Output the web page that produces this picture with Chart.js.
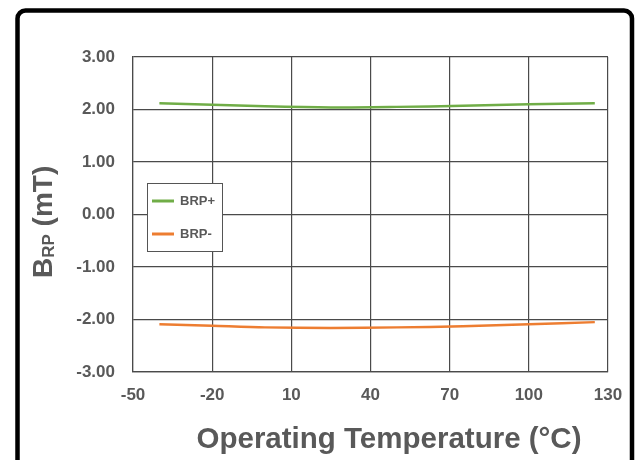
<!DOCTYPE html>
<html>
<head>
<meta charset="utf-8">
<script src="https://cdn.jsdelivr.net/npm/chart.js@4.4.1/dist/chart.umd.min.js"></script>
<style>
  html, body { margin: 0; padding: 0; background: #fff; }
  #wrap { width: 638px; height: 460px; position: relative; }
</style>
</head>
<body>
<div id="wrap"><canvas id="brpChart"></canvas></div>
<script>
// values
const temperatures = [-40, -20, 0, 25, 50, 75, 100, 125];
const brpPlus = [2.12, 2.09, 2.06, 2.04, 2.05, 2.07, 2.10, 2.12];
const brpMinus = [-2.09, -2.12, -2.15, -2.16, -2.15, -2.13, -2.09, -2.05];
const seriesNames = ['BRP+', 'BRP-'];
const seriesColors = ['#70AD47', '#ED7D31'];
const xTitle = 'Operating Temperature (°C)';

const textColor = '#595959';
const gridColor = '#4a4a4a';
const fontFamily = 'Arial, "Liberation Sans", sans-serif';

// frame, y title with subscript and the inside legend
const decorPlugin = {
    id: 'decor',
    afterDraw(chart) {
        const ctx = chart.ctx;
        ctx.save();

        // outer rounded frame
        ctx.strokeStyle = '#000';
        ctx.lineWidth = 4.5;
        ctx.beginPath();
        ctx.roundRect(17.5, 10.5, 614.5, 480, 8);
        ctx.stroke();

        // y title: B_RP (mT)
        ctx.fillStyle = textColor;
        ctx.translate(52, 278);
        ctx.rotate(-Math.PI / 2);
        ctx.textAlign = 'left';
        ctx.textBaseline = 'alphabetic';
        ctx.font = 'bold 28px ' + fontFamily;
        ctx.fillText('B', 0, 0);
        let w = ctx.measureText('B').width;
        ctx.font = 'bold 17px ' + fontFamily;
        ctx.fillText('RP', w, 2);
        w += ctx.measureText('RP').width;
        ctx.font = 'bold 28px ' + fontFamily;
        ctx.fillText(' (mT)', w, 0);
        ctx.setTransform(1, 0, 0, 1, 0, 0);
        ctx.scale(chart.currentDevicePixelRatio, chart.currentDevicePixelRatio);

        // x title
        ctx.font = 'bold 29.5px ' + fontFamily;
        ctx.textAlign = 'center';
        ctx.fillText(xTitle, 389, 448);

        // legend box
        const bx = 147, by = 183, bw = 75, bh = 68;
        ctx.fillStyle = '#fff';
        ctx.fillRect(bx, by, bw, bh);
        ctx.strokeStyle = '#555';
        ctx.lineWidth = 1;
        ctx.strokeRect(bx + 0.5, by + 0.5, bw, bh);
        ctx.font = 'bold 13px ' + fontFamily;
        ctx.textAlign = 'left';
        ctx.textBaseline = 'middle';
        chart.data.datasets.forEach((ds, i) => {
            const y = by + 18 + i * 33;
            ctx.strokeStyle = ds.borderColor;
            ctx.lineWidth = 3;
            ctx.beginPath();
            ctx.moveTo(bx + 5, y);
            ctx.lineTo(bx + 27, y);
            ctx.stroke();
            ctx.fillStyle = textColor;
            ctx.fillText(ds.label, bx + 33, y + 0.5);
        });
        ctx.restore();
    }
};

const tickFont = { family: fontFamily, size: 17, weight: 'bold' };

new Chart(document.getElementById('brpChart'), {
    type: 'line',
    data: {
        labels: temperatures,
        datasets: [
            {
                label: seriesNames[0],
                data: temperatures.map((t, i) => ({ x: t, y: brpPlus[i] })),
                borderColor: seriesColors[0],
                borderWidth: 2.5,
                pointRadius: 0,
                tension: 0.3
            },
            {
                label: seriesNames[1],
                data: temperatures.map((t, i) => ({ x: t, y: brpMinus[i] })),
                borderColor: seriesColors[1],
                borderWidth: 2.5,
                pointRadius: 0,
                tension: 0.3
            }
        ]
    },
    options: {
        responsive: true,
        maintainAspectRatio: false,
        animation: false,
        layout: { padding: { left: 0, right: 30, top: 57, bottom: 0 } },
        plugins: {
            legend: { display: false },
            tooltip: { enabled: false }
        },
        scales: {
            x: {
                type: 'linear',
                min: -50,
                max: 130,
                afterFit: s => { s.height = 88; },
                ticks: {
                    stepSize: 30,
                    color: textColor,
                    font: tickFont,
                    padding: 13,
                    maxRotation: 0
                },
                grid: { color: gridColor, lineWidth: 1.2, drawTicks: false },
                border: { color: gridColor, width: 1.2 }
            },
            y: {
                type: 'linear',
                min: -3,
                max: 3,
                afterFit: s => { s.width = 133; },
                ticks: {
                    stepSize: 1,
                    color: textColor,
                    font: tickFont,
                    padding: 18,
                    callback: v => v.toFixed(2)
                },
                grid: { color: gridColor, lineWidth: 1.2, drawTicks: false },
                border: { color: gridColor, width: 1.2 }
            }
        }
    },
    plugins: [decorPlugin]
});
</script>
</body>
</html>
